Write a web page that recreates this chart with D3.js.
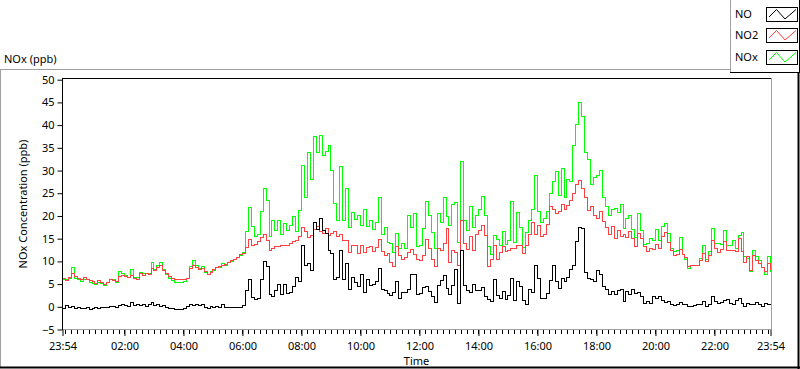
<!DOCTYPE html>
<html>
<head>
<meta charset="utf-8">
<script src="https://cdn.jsdelivr.net/npm/d3@7"></script>
<style>
  html, body { margin: 0; padding: 0; background: #fff; }
  svg { display: block; }
  text { font-family: "Noto Sans", "Open Sans", sans-serif; font-size: 11px; fill: #000; }
</style>
</head>
<body>
<svg id="chart" width="800" height="369"></svg>
<script>
// one sample every 6 minutes, starting 23:54
const STEP_MIN = 6;

const noValues = [
  -0.3, 0.2, -0.2, 0.1, -0.3, -0.2, -0.4, -0.3, -0.2, -0.5, -0.3, -0.2, -0.3, -0.1, -0.2, -0.1,
  0.0, 0.1, -0.2, 0.2, 0.5, 0.3, 0.1, 0.9, 0.2, 0.4, 0.3, 0.6, 0.0, 0.4, 0.9, 0.3, 0.5, 0.1,
  0.2, -0.2, -0.3, -0.4, -0.6, -0.5, -0.6, -0.3, 0.1, 0.4, 0.3, 0.5, 0.2, 0.4,
  -0.2, -0.3, 0.1, -0.1, 0.0, -0.2, 0.5, -0.2, -0.1, -0.2, -0.1, -0.2, -0.1, 0.2, 3.5, 6.0,
  2.1, 1.6, 1.8, 5.9, 9.9, 8.8, 2.6, 2.2, 3.6, 5.0, 2.8, 5.0, 3.0, 3.2, 4.5, 6.5, 5.5, 13.4,
  9.0, 9.5, 8.0, 18.5, 17.0, 19.5, 16.9, 16.2, 12.5, 11.7, 5.9, 6.5, 12.5, 5.9, 9.5,
  3.9, 6.4, 5.3, 4.4, 7.0, 3.2, 6.0, 4.6, 5.0, 5.5, 8.5, 3.8, 3.6, 3.0, 2.4, 3.2, 5.5, 1.9,
  3.1, 3.2, 3.8, 7.0, 7.2, 2.8, 3.0, 4.3, 4.4, 3.4, 2.3, 0.9, 4.6, 5.8, 6.9, 4.0, 2.8, 4.6,
  8.2, 0.8, 12.5, 4.6, 3.6, 3.2, 4.8, 3.6, 3.5, 4.2, 2.2, 1.5,
  1.2, 6.0, 2.4, 1.9, 3.4, 1.6, 2.4, 6.3, 1.4, 5.5, 4.4, 1.4, 0.6, 3.8, 3.2, 9.0, 6.3, 1.9,
  1.8, 3.0, 5.8, 9.0, 5.5, 4.0, 6.3, 5.5, 6.5, 8.3, 9.0, 14.4, 17.5, 17.3, 7.5, 6.3, 6.0, 5.5,
  7.9, 7.2, 4.4, 3.8, 2.8, 3.4, 2.6, 3.6, 3.8, 1.2, 3.4, 2.6,
  3.8, 2.9, 3.2, 2.2, 0.7, 1.2, 0.7, 2.2, 1.8, 2.2, 1.4, 1.0, 1.2, 0.4, 0.2, 0.4, 1.0, 0.5,
  0.4, 0.0, 0.0, 0.3, 0.4, 0.6, 1.1, 0.1, 0.4, 2.2, 1.1, 0.8, 1.0, 1.4, 1.5, 0.7, 0.4, 1.4,
  1.8, 0.7, 0.1, 0.8, 0.5, 0.6, 1.0, 0.5, 0.0, 0.7, 0.4, 0.6
];

const no2Values = [
  6.2, 5.8, 6.4, 7.4, 6.6, 6.3, 6.0, 6.4, 6.1, 5.8, 5.5, 5.2, 5.7, 5.3, 4.8, 5.4, 5.9, 5.8,
  5.6, 6.6, 6.9, 6.6, 6.4, 6.9, 6.3, 6.0, 7.3, 6.8, 7.3, 7.0, 8.4, 8.0, 8.6, 9.0, 8.0, 7.4,
  6.6, 6.2, 6.0, 5.9, 6.0, 5.9, 6.2, 8.4, 9.0, 8.6, 8.3, 8.5,
  7.8, 7.2, 7.6, 8.2, 8.6, 8.9, 9.2, 9.4, 9.7, 10.2, 10.5, 10.9, 11.5, 11.8, 13.0, 14.8,
  13.6, 13.7, 14.3, 15.2, 16.0, 14.5, 12.5, 12.8, 13.2, 13.2, 13.6, 13.4, 13.5, 14.0, 14.3,
  14.7, 15.4, 17.4, 16.5, 15.3, 15.6, 17.0, 17.6, 16.5, 16.2, 17.3, 15.8, 16.2, 16.5, 15.5,
  16.0, 14.7, 14.5,
  11.9, 13.4, 13.5, 11.8, 13.6, 12.0, 13.1, 13.2, 12.2, 13.0, 14.8, 12.2, 11.2, 11.8, 9.8,
  8.9, 13.2, 11.4, 10.4, 10.9, 12.0, 12.6, 11.6, 10.5, 10.2, 11.3, 14.9, 12.8, 10.4, 8.8,
  12.8, 12.4, 14.0, 17.2, 9.8, 12.3, 11.9, 9.0, 19.0, 13.9, 12.6, 15.4, 12.3, 16.0, 16.7,
  17.8, 15.8, 8.8,
  10.5, 13.6, 10.4, 11.9, 13.2, 12.2, 12.4, 12.9, 12.8, 13.6, 13.5, 11.8, 13.4, 16.0, 18.5,
  16.0, 18.0, 15.5, 16.0, 18.2, 22.0, 21.5, 20.5, 21.0, 22.5, 21.5, 22.2, 23.3, 25.0, 27.0,
  27.8, 26.0, 24.0, 21.3, 22.0, 20.0, 19.5, 21.0, 18.8, 17.5, 16.0, 17.7, 15.0, 16.7, 15.5,
  15.9, 15.2, 16.5,
  15.0, 13.2, 16.2, 15.1, 13.2, 12.1, 12.8, 12.6, 13.8, 12.8, 15.4, 16.3, 14.2, 12.3, 11.4,
  11.5, 12.6, 11.6, 10.9, 8.8, 9.2, 9.1, 9.0, 10.3, 11.8, 10.0, 11.3, 14.7, 12.8, 12.0, 12.6,
  14.3, 12.4, 12.3, 12.5, 12.1, 15.1, 12.1, 9.8, 11.0, 8.1, 11.4, 10.2, 9.6, 8.6, 7.7, 9.6, 8.2
];

const noxValues = [
  5.9, 6.0, 6.2, 8.6, 6.3, 6.1, 5.6, 6.1, 5.9, 5.3, 5.2, 5.0, 5.4, 5.2, 4.6, 5.3, 5.9, 5.9,
  5.4, 7.8, 7.4, 6.9, 6.5, 8.3, 6.5, 6.4, 7.6, 7.4, 7.3, 7.4, 9.8, 8.3, 9.1, 9.7, 8.2, 7.2,
  6.3, 5.8, 5.4, 5.4, 5.4, 5.6, 6.3, 8.8, 10.2, 9.1, 8.5, 8.9,
  7.6, 7.0, 7.7, 8.1, 8.6, 8.7, 9.6, 9.1, 9.7, 10.0, 10.4, 10.8, 11.4, 11.9, 16.5, 21.8,
  17.6, 15.4, 16.0, 21.0, 26.0, 23.5, 15.5, 19.0, 16.8, 19.0, 16.0, 18.4, 16.8, 18.0, 19.8,
  16.5, 21.3, 31.0, 24.0, 34.0, 28.0, 37.5, 34.0, 37.8, 33.4, 34.1, 35.6, 30.1, 22.8, 19.1,
  30.8, 19.1, 26.0,
  17.5, 20.8, 19.2, 20.2, 18.0, 21.5, 17.6, 19.0, 17.0, 18.6, 24.0, 16.0, 17.4, 14.2, 14.0,
  11.9, 16.1, 12.9, 14.0, 12.8, 20.0, 17.5, 20.5, 13.2, 13.6, 17.3, 23.2, 20.0, 16.3, 12.9,
  20.6, 18.6, 24.0, 19.8, 17.8, 22.6, 23.0, 14.2, 31.9, 19.0, 16.8, 22.0, 17.5, 20.0, 21.5,
  24.3, 20.0, 13.3,
  11.6, 15.8, 14.8, 13.6, 16.5, 13.8, 14.7, 23.2, 14.2, 20.8, 17.4, 13.0, 16.3, 19.0, 21.5,
  29.0, 21.0, 18.5, 19.5, 21.0, 25.0, 27.5, 29.8, 24.6, 30.5, 24.0, 28.0, 27.5, 35.5, 40.1,
  45.0, 42.0, 34.0, 32.5, 27.0, 28.5, 29.0, 30.0, 24.0, 22.0, 20.0, 21.5, 21.6, 20.8, 22.5,
  17.2, 19.4, 20.0,
  17.0, 15.3, 20.5, 16.9, 13.8, 14.0, 15.1, 14.7, 17.0, 14.5, 17.6, 18.4, 16.2, 12.8, 12.1,
  12.3, 15.2, 11.5, 10.5, 8.4, 9.0, 9.2, 9.1, 10.7, 13.5, 10.5, 12.1, 17.3, 14.0, 14.0, 13.8,
  16.8, 13.6, 13.6, 14.5, 12.9, 15.8, 16.4, 11.0, 10.6, 7.8, 12.4, 11.0, 10.2, 8.7, 7.2, 11.0, 7.7
];

// x tick labels, in minutes after 23:54
const timeLabels = ['23:54', '02:00', '04:00', '06:00', '08:00', '10:00', '12:00',
  '14:00', '16:00', '18:00', '20:00', '22:00', '23:54'];
const timeTicks = [0, 126, 246, 366, 486, 606, 726, 846, 966, 1086, 1206, 1326, 1440];
const yTicks = [-5, 0, 5, 10, 15, 20, 25, 30, 35, 40, 45, 50];

const seriesNames = ['NO', 'NO2', 'NOx'];
const seriesColors = ['#000000', '#ff4040', '#00ff00'];

const svg = d3.select('#chart');

const x = d3.scaleLinear().domain([0, 1440]).range([62.5, 770.5]);
const y = d3.scaleLinear().domain([-5, 50]).range([329.5, 79.7]);

// outer frame
svg.append('line').attr('x1', 0).attr('x2', 731).attr('y1', 69.5).attr('y2', 69.5)
  .attr('stroke', '#a0a0a0');
svg.append('line').attr('x1', 0.5).attr('x2', 0.5).attr('y1', 69).attr('y2', 368)
  .attr('stroke', '#a0a0a0');
svg.append('line').attr('x1', 0).attr('x2', 800).attr('y1', 367.5).attr('y2', 367.5)
  .attr('stroke', '#000').attr('stroke-width', 2);
svg.append('line').attr('x1', 798.5).attr('x2', 798.5).attr('y1', 72).attr('y2', 369)
  .attr('stroke', '#000').attr('stroke-width', 2);

// legend box
svg.append('line').attr('x1', 730.5).attr('x2', 730.5).attr('y1', 0).attr('y2', 72)
  .attr('stroke', '#a0a0a0');
svg.append('line').attr('x1', 730).attr('x2', 800).attr('y1', 72.5).attr('y2', 72.5)
  .attr('stroke', '#000');
svg.append('line').attr('x1', 799.5).attr('x2', 799.5).attr('y1', 0).attr('y2', 73)
  .attr('stroke', '#000');

// clip for data
svg.append('clipPath').attr('id', 'plotClip')
  .append('rect').attr('x', 62).attr('y', 78).attr('width', 710).attr('height', 252);

const toPoints = (vals) => vals.map((v, i) => [i * STEP_MIN, v]);
const line = d3.line()
  .x((d) => x(d[0]))
  .y((d) => y(d[1]))
  .curve(d3.curveStepAfter);

const dataLayer = svg.append('g').attr('clip-path', 'url(#plotClip)');
const allSeries = [noValues, no2Values, noxValues];
// NOx drawn first, NO last
[2, 1, 0].forEach((k) => {
  dataLayer.append('path')
    .datum(toPoints(allSeries[k]))
    .attr('d', line)
    .attr('fill', 'none')
    .attr('stroke', seriesColors[k])
    .attr('stroke-width', 1)
    .attr('shape-rendering', 'crispEdges');
});

// plot frame
svg.append('line').attr('x1', 62).attr('x2', 772).attr('y1', 78.5).attr('y2', 78.5)
  .attr('stroke', '#000');
svg.append('line').attr('x1', 62.5).attr('x2', 62.5).attr('y1', 78).attr('y2', 330)
  .attr('stroke', '#000');
svg.append('line').attr('x1', 771.5).attr('x2', 771.5).attr('y1', 78).attr('y2', 330)
  .attr('stroke', '#a0a0a0');
svg.append('line').attr('x1', 63).attr('x2', 772).attr('y1', 329.5).attr('y2', 329.5)
  .attr('stroke', '#a0a0a0');

// y axis
const yAxis = svg.append('g').attr('transform', 'translate(62.5,0)')
  .call(d3.axisLeft(y).tickValues(yTicks).tickSize(5).tickPadding(3));
yAxis.select('.domain').remove();
yAxis.selectAll('text').style('font-size', '11px').style('font-family', '"Noto Sans", sans-serif')
  .attr('fill', '#000');

// x axis: minor ticks every 12 minutes from 00:00
const minorTicks = d3.range(6, 1440, 12);
svg.append('g').selectAll('line').data(minorTicks).join('line')
  .attr('x1', (d) => Math.round(x(d)) + 0.5).attr('x2', (d) => Math.round(x(d)) + 0.5)
  .attr('y1', 330).attr('y2', 334)
  .attr('stroke', '#000');
const xAxis = svg.append('g').attr('transform', 'translate(0,330)')
  .call(d3.axisBottom(x).tickValues(timeTicks).tickSize(6).tickPadding(6)
    .tickFormat((d, i) => timeLabels[i]));
xAxis.select('.domain').remove();
xAxis.selectAll('text').style('font-size', '11px').style('font-family', '"Noto Sans", sans-serif')
  .attr('fill', '#000');

// titles
svg.append('text').attr('x', 4).attr('y', 63).text('NOx (ppb)');
svg.append('text').attr('x', 416.5).attr('y', 365).attr('text-anchor', 'middle').text('Time');
svg.append('text')
  .attr('transform', 'translate(27,204) rotate(-90)')
  .attr('text-anchor', 'middle')
  .text('NOx Concentration (ppb)');

// legend
const legendY = [7.5, 28.5, 50.5];
const legend = svg.append('g');
seriesNames.forEach((name, k) => {
  const g = legend.append('g').attr('transform', `translate(0,${legendY[k]})`);
  g.append('text').attr('x', 735).attr('y', 10).text(name);
  g.append('rect').attr('x', 766.5).attr('y', 0).attr('width', 31).attr('height', 14)
    .attr('fill', '#fff').attr('stroke', '#000');
  g.append('path')
    .attr('d', d3.line()([[769, 9.5], [776.5, 2], [785, 11.5], [796, 2]]))
    .attr('fill', 'none').attr('stroke', seriesColors[k]);
});
</script>
</body>
</html>
